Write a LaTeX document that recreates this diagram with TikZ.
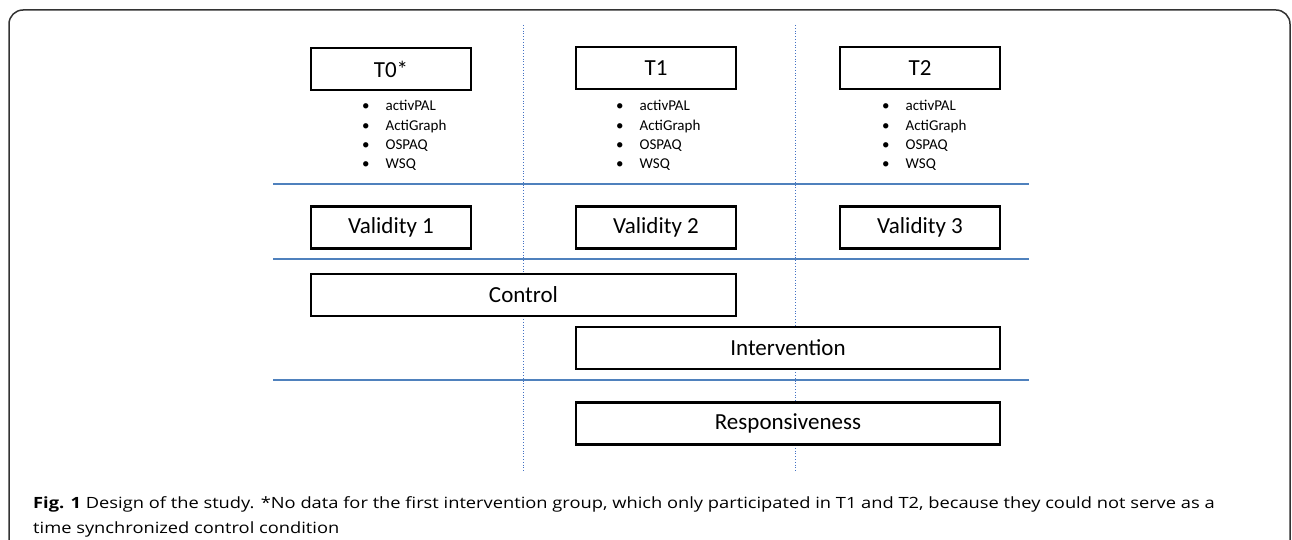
\documentclass[tikz,border=0pt]{standalone}
\usepackage{fontspec}
\setmainfont{Carlito}
\newfontfamily\capfont[FakeStretch=1.18]{Open Sans}
\definecolor{rowblue}{HTML}{4F81BD}
\definecolor{dotblue}{HTML}{4472C4}
\definecolor{framegray}{HTML}{333333}
\begin{document}
\begin{tikzpicture}[x=1pt,y=-1pt,
  stagebox/.style={draw=black, line width=2.5pt, minimum height=42pt, inner sep=0pt, font=\fontsize{23}{27}\selectfont},
  itemlist/.style={anchor=base west, inner sep=0pt, font=\fontsize{15}{19.3}\selectfont},
  rowline/.style={draw=rowblue, line width=1.3pt},
  colline/.style={draw=dotblue, line width=0.8pt, dotted}]
\useasboundingbox (0,0) rectangle (1292,540);
% outer frame (open at the bottom)
\draw[framegray, line width=1.5pt, rounded corners=14pt] (9,560) -- (9,10) -- (1290,10) -- (1290,560);
% column separators
\coordinate (c1t) at (523,25); \coordinate (c1b) at (523,471);
\coordinate (c2t) at (795,25); \coordinate (c2b) at (795,471);
\draw[colline] (c1t) -- (c1b);
\draw[colline] (c2t) -- (c2b);
% row separators
\coordinate (r1l) at (273,184); \coordinate (r1r) at (1029,184);
\coordinate (r2l) at (273,259); \coordinate (r2r) at (1029,259);
\coordinate (r3l) at (273,380); \coordinate (r3r) at (1029,380);
\draw[rowline] (r1l) -- (r1r);
\draw[rowline] (r2l) -- (r2r);
\draw[rowline] (r3l) -- (r3r);
% time points
\node[stagebox, minimum width=160pt, fill=white] (t0) at (391,69) {T0*};
\node[stagebox, minimum width=160pt, fill=white] (t1) at (656,68) {T1};
\node[stagebox, minimum width=160pt, fill=white] (t2) at (920,68) {T2};
% measures
\newcommand{\measurelist}{\begin{tabular}[t]{@{}l@{\hspace{16pt}}l@{}}\textbullet & activPAL\\ \textbullet & ActiGraph\\ \textbullet & OSPAQ\\ \textbullet & WSQ\end{tabular}}
\node[itemlist] (m0) at (362,111) {\measurelist};
\node[itemlist] (m1) at (616,111) {\measurelist};
\node[itemlist] (m2) at (882,111) {\measurelist};
% validity
\node[stagebox, minimum width=160pt] (v1) at (391,227.5) {Validity 1};
\node[stagebox, minimum width=160pt] (v2) at (656,227.5) {Validity 2};
\node[stagebox, minimum width=160pt] (v3) at (920,227.5) {Validity 3};
% groups
\node[stagebox, minimum width=425pt, fill=white] (ctrl) at (523.5,295) {Control};
\node[stagebox, minimum width=424pt, fill=white] (intv) at (788,348) {Intervention};
\node[stagebox, minimum width=424pt, fill=white] (resp) at (788,423.5) {Responsiveness};
% caption
\node[anchor=base west, inner sep=0pt, align=left, font=\capfont\fontsize{15.5}{25}\selectfont] (cap) at (33,533)
  {\textbf{Fig. 1} Design of the study. *No data for the first intervention group, which only participated in T1 and T2, because they could not serve as a\\
   time synchronized control condition};
\end{tikzpicture}
\end{document}
